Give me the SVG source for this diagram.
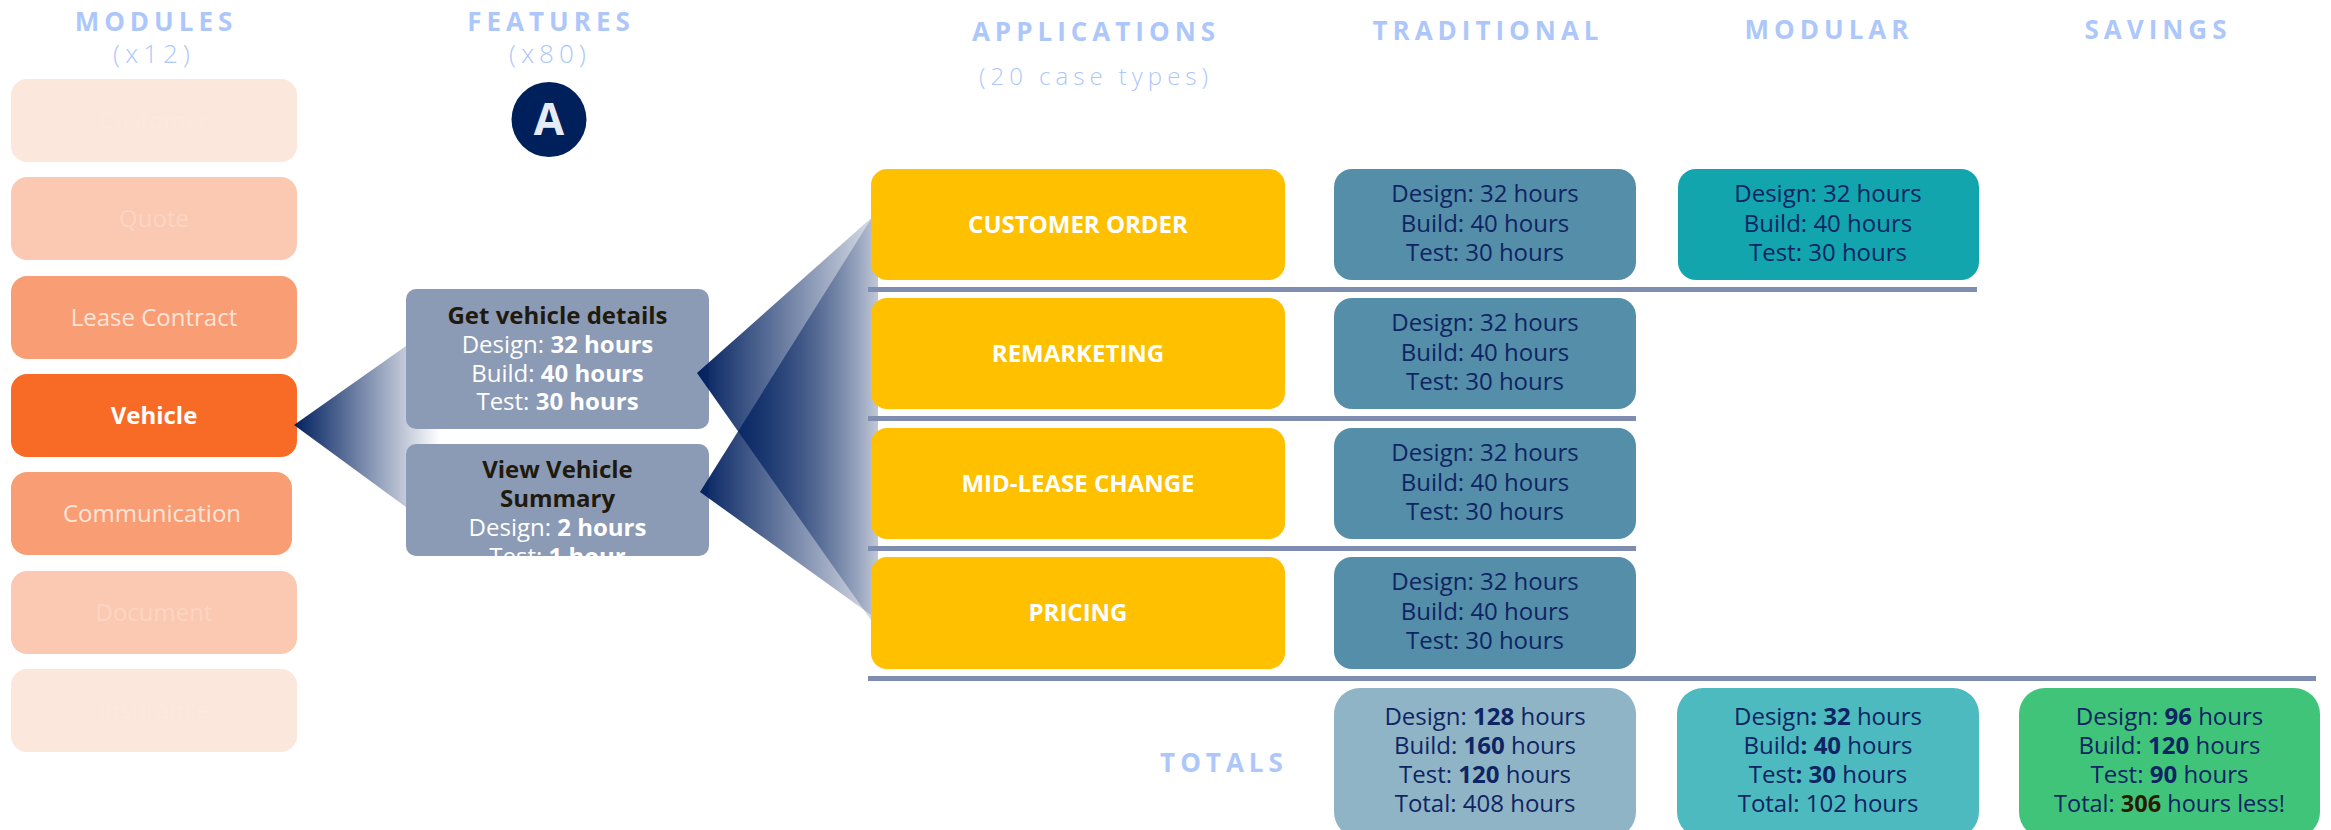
<svg xmlns="http://www.w3.org/2000/svg" width="2331" height="830" viewBox="0 0 2331 830">
<defs>
<style>
text{font-family:"Open Sans","Noto Sans","Liberation Sans",sans-serif;}
.hdr{font-size:26px;font-weight:700;fill:#adc7fb;letter-spacing:5px;text-anchor:middle;}
.sub{font-size:26px;font-weight:300;fill:#adc7fb;letter-spacing:5px;text-anchor:middle;}
.mod{font-size:24px;text-anchor:middle;}
.feat{font-size:24px;text-anchor:middle;fill:#ffffff;}
.ftitle{font-weight:700;fill:#1f1a0d;}
.b{font-weight:700;}
.app{font-size:24px;font-weight:700;fill:#ffffff;text-anchor:middle;}
.cell{font-size:24px;fill:#0f2463;text-anchor:middle;}
.div{fill:#7f8db0;}
</style>
<linearGradient id="gL" gradientUnits="userSpaceOnUse" x1="294" y1="0" x2="440" y2="0">
<stop offset="0" stop-color="#00205f" stop-opacity="1"/>
<stop offset="1" stop-color="#00205f" stop-opacity="0"/>
</linearGradient>
<linearGradient id="gR" gradientUnits="userSpaceOnUse" x1="697" y1="0" x2="895" y2="0">
<stop offset="0" stop-color="#00205f" stop-opacity="1"/>
<stop offset="1" stop-color="#00205f" stop-opacity="0.05"/>
</linearGradient>
<clipPath id="clipF2"><rect x="406" y="444" width="303" height="112" rx="10"/></clipPath>
</defs>

<g id="headers">
<text class="hdr" x="156" y="31">MODULES</text>
<text class="sub" x="154" y="63">(x12)</text>
<text class="hdr" x="551" y="31">FEATURES</text>
<text class="sub" x="550" y="63">(x80)</text>
<text class="hdr" x="1096" y="41">APPLICATIONS</text>
<text class="sub" x="1096" y="85" style="font-size:24px">(20 case types)</text>
<text class="hdr" x="1488" y="40">TRADITIONAL</text>
<text class="hdr" x="1829" y="39">MODULAR</text>
<text class="hdr" x="2158" y="39">SAVINGS</text>
<text class="hdr" x="1224" y="772">TOTALS</text>
</g>

<g id="badge-A">
<circle cx="549" cy="119.5" r="37.5" fill="#00205b"/>
<text x="549" y="135" text-anchor="middle" style="font-size:44px;font-weight:700;fill:#e6ecf7">A</text>
</g>

<g id="modules">
<g id="mod-customer"><rect x="11" y="79" width="286" height="83" rx="16" fill="#fce7dc"/><text class="mod" x="154" y="129" fill="#fce9df">Customer</text></g>
<g id="mod-quote"><rect x="11" y="177" width="286" height="83" rx="16" fill="#fbc9b2"/><text class="mod" x="154" y="227" fill="#fcd5c3">Quote</text></g>
<g id="mod-lease"><rect x="11" y="276" width="286" height="83" rx="16" fill="#f99e74"/><text class="mod" x="154" y="326" fill="#fde4d8">Lease Contract</text></g>
<g id="mod-vehicle"><rect x="11" y="374" width="286" height="83" rx="16" fill="#f76b27"/><text class="mod b" x="154" y="424" fill="#ffffff">Vehicle</text></g>
<g id="mod-communication"><rect x="11" y="472" width="281" height="83" rx="16" fill="#f99e74"/><text class="mod" x="152" y="522" fill="#fde4d8">Communication</text></g>
<g id="mod-document"><rect x="11" y="571" width="286" height="83" rx="16" fill="#fbc9b2"/><text class="mod" x="154" y="621" fill="#fcd5c3">Document</text></g>
<g id="mod-insurance"><rect x="11" y="669" width="286" height="83" rx="16" fill="#fce7dc"/><text class="mod" x="154" y="719" fill="#fce9df">Insurance</text></g>
</g>

<g id="connectors">
<polygon id="fan-left" points="294,425 440,322 440,532" fill="url(#gL)"/>
</g>

<g id="features">
<g id="feat-get-vehicle-details">
<rect x="406" y="289" width="303" height="140" rx="10" fill="#8b9ab5"/>
<text class="feat ftitle" x="557.5" y="324">Get vehicle details</text>
<text class="feat" x="557.5" y="353">Design: <tspan class="b">32 hours</tspan></text>
<text class="feat" x="557.5" y="382">Build: <tspan class="b">40 hours</tspan></text>
<text class="feat" x="557.5" y="410">Test: <tspan class="b">30 hours</tspan></text>
</g>
<g id="feat-view-vehicle-summary">
<rect x="406" y="444" width="303" height="112" rx="10" fill="#8b9ab5"/>
<g clip-path="url(#clipF2)">
<text class="feat ftitle" x="557.5" y="478">View Vehicle</text>
<text class="feat ftitle" x="557.5" y="507">Summary</text>
<text class="feat" x="557.5" y="536">Design: <tspan class="b">2 hours</tspan></text>
<text class="feat" x="557.5" y="565">Test: <tspan class="b">1 hour</tspan></text>
</g>
</g>
</g>

<g id="connectors-right">
<polygon id="fan-1" points="697,373 878,212 878,630" fill="url(#gR)"/>
<polygon id="fan-2" points="700,492 878,208 878,620" fill="url(#gR)"/>
</g>

<g id="dividers">
<rect class="div" x="868" y="287" width="1109" height="5"/>
<rect class="div" x="868" y="416" width="768" height="5"/>
<rect class="div" x="868" y="546" width="768" height="5"/>
<rect class="div" x="868" y="676" width="1448" height="5"/>
</g>

<g id="applications">
<g id="app-customer-order"><rect x="871" y="169" width="414" height="111" rx="16" fill="#ffc000"/><text class="app" x="1078" y="233">CUSTOMER ORDER</text></g>
<g id="app-remarketing"><rect x="871" y="298" width="414" height="111" rx="16" fill="#ffc000"/><text class="app" x="1078" y="362">REMARKETING</text></g>
<g id="app-mid-lease"><rect x="871" y="428" width="414" height="111" rx="16" fill="#ffc000"/><text class="app" x="1078" y="492">MID-LEASE CHANGE</text></g>
<g id="app-pricing"><rect x="871" y="557" width="414" height="112" rx="16" fill="#ffc000"/><text class="app" x="1078" y="621">PRICING</text></g>
</g>

<g id="traditional">
<g id="trad-1"><rect x="1334" y="169" width="302" height="111" rx="18" fill="#558ea8"/>
<text class="cell" x="1485" y="202">Design: 32 hours</text><text class="cell" x="1485" y="232">Build: 40 hours</text><text class="cell" x="1485" y="261">Test: 30 hours</text></g>
<g id="trad-2"><rect x="1334" y="298" width="302" height="111" rx="18" fill="#558ea8"/>
<text class="cell" x="1485" y="331">Design: 32 hours</text><text class="cell" x="1485" y="361">Build: 40 hours</text><text class="cell" x="1485" y="390">Test: 30 hours</text></g>
<g id="trad-3"><rect x="1334" y="428" width="302" height="111" rx="18" fill="#558ea8"/>
<text class="cell" x="1485" y="461">Design: 32 hours</text><text class="cell" x="1485" y="491">Build: 40 hours</text><text class="cell" x="1485" y="520">Test: 30 hours</text></g>
<g id="trad-4"><rect x="1334" y="557" width="302" height="112" rx="18" fill="#558ea8"/>
<text class="cell" x="1485" y="590">Design: 32 hours</text><text class="cell" x="1485" y="620">Build: 40 hours</text><text class="cell" x="1485" y="649">Test: 30 hours</text></g>
</g>

<g id="modular">
<g id="mod-1"><rect x="1678" y="169" width="301" height="111" rx="18" fill="#12a5ad"/>
<text class="cell" x="1828" y="202">Design: 32 hours</text><text class="cell" x="1828" y="232">Build: 40 hours</text><text class="cell" x="1828" y="261">Test: 30 hours</text></g>
</g>

<g id="totals">
<g id="total-traditional"><rect x="1334" y="688" width="302" height="150" rx="26" fill="#8fb4c6"/>
<text class="cell" x="1485" y="725">Design: <tspan class="b">128</tspan> hours</text>
<text class="cell" x="1485" y="754">Build: <tspan class="b">160</tspan> hours</text>
<text class="cell" x="1485" y="783">Test: <tspan class="b">120</tspan> hours</text>
<text class="cell" x="1485" y="812">Total: 408 hours</text></g>
<g id="total-modular"><rect x="1677" y="688" width="302" height="150" rx="26" fill="#4cbabe"/>
<text class="cell" x="1828" y="725">Design<tspan class="b">: 32</tspan> hours</text>
<text class="cell" x="1828" y="754">Build<tspan class="b">: 40</tspan> hours</text>
<text class="cell" x="1828" y="783">Test<tspan class="b">: 30</tspan> hours</text>
<text class="cell" x="1828" y="812">Total: 102 hours</text></g>
<g id="total-savings"><rect x="2019" y="688" width="301" height="150" rx="26" fill="#40c47a"/>
<text class="cell" x="2169.5" y="725">Design: <tspan class="b">96</tspan> hours</text>
<text class="cell" x="2169.5" y="754">Build: <tspan class="b">120</tspan> hours</text>
<text class="cell" x="2169.5" y="783">Test: <tspan class="b">90</tspan> hours</text>
<text class="cell" x="2169.5" y="812" style="font-size:23.5px">Total: <tspan class="b" fill="#2a1a00">306</tspan> hours less!</text></g>
</g>
</svg>
